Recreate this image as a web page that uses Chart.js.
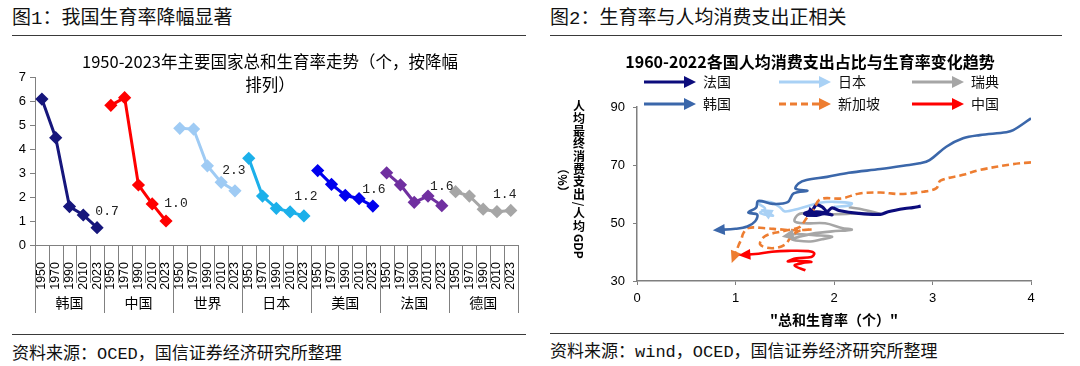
<!DOCTYPE html>
<html lang="zh-CN">
<head>
<meta charset="utf-8">
<script src="https://cdn.jsdelivr.net/npm/chart.js@4.4.1/dist/chart.umd.min.js"></script>
<style>
  html, body { margin: 0; padding: 0; background: #fff; }
  body { width: 1080px; height: 366px; position: relative; overflow: hidden; color: #000;
         font-family: "Noto Sans CJK SC", sans-serif; }
  .head { position: absolute; top: 6px; font-size: 19px; line-height: 26px; color: #111;
          font-family: "Liberation Mono", "Noto Sans CJK SC", monospace; }
  .src { position: absolute; font-size: 17px; line-height: 24px; color: #111;
         font-family: "Liberation Mono", "Noto Sans CJK SC", monospace; }
  .rule { position: absolute; height: 0; border-top: 1.5px solid #3a3a3a; }
  .ctitle { position: absolute; width: 540px; text-align: center; font-size: 16.5px; line-height: 23px; z-index: 2; }
  .box { position: absolute; }
</style>
</head>
<body>

<div class="head" style="left:12px">图1：我国生育率降幅显著</div>
<div class="rule" style="left:12px; top:35px; width:514px"></div>
<div class="ctitle" style="left:0; top:50px">1950-2023年主要国家总和生育率走势（个，按降幅<br>排列）</div>
<div class="box" style="left:0; top:40px; width:535px; height:280px"><canvas id="chartTfr"></canvas></div>
<div class="rule" style="left:12px; top:334px; width:514px"></div>
<div class="src" style="left:12px; top:343px">资料来源：OCED，国信证券经济研究所整理</div>

<div class="head" style="left:550px">图2：生育率与人均消费支出正相关</div>
<div class="rule" style="left:550px; top:35px; width:512px"></div>
<div class="ctitle" style="left:540px; top:50px; font-size:16px; font-weight:bold">1960-2022各国人均消费支出占比与生育率变化趋势</div>
<div class="box" style="left:540px; top:40px; width:540px; height:290px"><canvas id="chartCons"></canvas></div>
<div class="rule" style="left:550px; top:333px; width:514px"></div>
<div class="src" style="left:550px; top:341px">资料来源：wind，OCED，国信证券经济研究所整理</div>

<script>
// ---------- datos figura 1 (总和生育率)
const years = ['1950', '1970', '1990', '2010', '2023'];
const countries = ['韩国', '中国', '世界', '日本', '美国', '法国', '德国'];
const tfrKorea = [6.08, 4.47, 1.60, 1.25, 0.72];
const tfrChina = [5.82, 6.14, 2.50, 1.71, 1.00];
const tfrWorld = [4.86, 4.83, 3.30, 2.61, 2.26];
const tfrJapan = [3.61, 2.04, 1.53, 1.38, 1.21];
const tfrUSA = [3.10, 2.53, 2.07, 1.93, 1.62];
const tfrFrance = [3.01, 2.51, 1.78, 2.04, 1.64];
const tfrGermany = [2.22, 2.04, 1.49, 1.39, 1.44];
const tfrTicks = [0, 1, 2, 3, 4, 5, 6, 7];

// ---------- datos figura 2 (生育率, 人均消费支出/人均GDP %)
const frTfr = [2.88, 2.80, 2.72, 2.55, 2.47, 2.25, 2.05, 1.98, 1.93, 1.88, 1.82, 1.78, 1.70, 1.80, 1.90, 1.98, 1.86, 1.76, 1.80];
const frCons = [55.8, 55.3, 55.0, 53.9, 53.0, 53.3, 54.3, 55.2, 54.0, 55.6, 56.2, 54.4, 53.2, 52.6, 53.2, 52.8, 53.8, 53.5, 53.0];
const jpTfr = [2.00, 2.15, 2.18, 2.00, 1.85, 1.77, 1.65, 1.50, 1.45, 1.35, 1.22, 1.30, 1.25, 1.38, 1.30];
const jpCons = [55.6, 56.0, 56.8, 57.3, 57.0, 56.2, 55.0, 54.0, 55.5, 57.2, 57.0, 55.0, 53.5, 52.5, 54.0];
const seTfr = [2.15, 2.30, 2.47, 2.25, 2.00, 1.75, 1.64, 1.60, 1.70, 1.91, 2.08, 2.18, 1.98, 1.81, 1.67, 1.57, 1.74, 1.88, 1.98, 1.80, 1.62, 1.52];
const seCons = [55.4, 54.6, 53.0, 53.3, 53.0, 53.4, 53.0, 50.6, 49.9, 49.9, 48.3, 47.7, 47.1, 46.5, 45.4, 44.4, 43.6, 44.4, 45.3, 45.8, 46.2, 45.6];
const krTfr = [4.00, 3.82, 3.75, 3.48, 3.31, 3.14, 2.97, 2.87, 2.72, 2.47, 2.15, 1.93, 1.72, 1.64, 1.61, 1.73, 1.59, 1.53, 1.38, 1.23, 1.21, 1.13, 1.22, 1.20, 1.12, 1.00, 0.82];
const krCons = [86.1, 82.0, 81.3, 80.3, 79.2, 76.3, 71.7, 70.6, 69.8, 68.6, 67.3, 65.9, 64.8, 63.6, 61.8, 61.1, 60.2, 57.2, 56.6, 57.6, 55.3, 53.6, 52.9, 50.6, 48.8, 48.0, 47.6];
const sgTfr = [4.00, 3.82, 3.48, 3.31, 3.08, 3.04, 2.91, 2.67, 2.47, 2.26, 2.08, 1.86, 1.79, 1.72, 1.65, 1.50, 1.30, 1.25, 1.37, 1.50, 1.57, 1.65, 1.78, 1.60, 1.45, 1.30, 1.13, 1.08, 1.06, 1.03, 0.98];
const sgCons = [70.9, 70.3, 68.3, 66.6, 64.6, 62.0, 60.8, 60.0, 60.5, 60.2, 58.5, 58.2, 54.5, 51.6, 48.6, 47.3, 45.5, 42.6, 41.3, 42.5, 45.5, 47.3, 47.8, 47.5, 47.8, 48.2, 48.3, 46.5, 44.5, 42.2, 37.8];
const cnTfr = [1.71, 1.60, 1.68, 1.77, 1.62, 1.53, 1.62, 1.77, 1.80, 1.74, 1.53, 1.37, 1.20, 1.08];
const cnCons = [33.7, 35.3, 36.2, 36.6, 37.0, 36.8, 37.8, 38.3, 39.5, 40.3, 40.4, 40.1, 39.3, 39.0];
const tfrAxisTicks = [0, 1, 2, 3, 4];
const consAxisTicks = [30, 50, 70, 90];

// ========================== Figura 1
const leftColors = ['#16167c', '#ff0000', '#9fcbf4', '#1cb0ea', '#0000ee', '#7030a0', '#a6a6a6'];
const tfrSeries = [tfrKorea, tfrChina, tfrWorld, tfrJapan, tfrUSA, tfrFrance, tfrGermany];
const categoryLabels = countries.flatMap(() => years);

const leftDatasets = tfrSeries.map((vals, g) => {
    const data = new Array(categoryLabels.length).fill(null);
    vals.forEach((v, i) => { data[g * years.length + i] = v; });
    return {
        label: countries[g],
        data: data,
        borderColor: leftColors[g],
        backgroundColor: leftColors[g],
        borderWidth: 3,
        pointStyle: 'rectRot',
        pointRadius: 4.5,
        pointHoverRadius: 4.5,
        tension: 0,
        spanGaps: false
    };
});

// desplazamiento de las etiquetas del último valor
const labelShift = [[10, -16], [10, -17], [-1, -20], [2, -19], [1, -17], [0, -19], [-6, -16]];

const groupAxisPlugin = {
    id: 'groupAxis',
    afterDraw(chart) {
        const { ctx, scales: { x } } = chart;
        const n = categoryLabels.length;
        const step = (x.right - x.left) / n;
        ctx.save();
        ctx.strokeStyle = '#808080';
        ctx.lineWidth = 1;
        for (let i = 0; i <= n; i++) {
            const px = Math.round(x.left + i * step) + 0.5;
            const isGroup = i % years.length === 0;
            ctx.beginPath();
            ctx.moveTo(px, x.top);
            ctx.lineTo(px, x.top + (isGroup ? 68 : 38));
            ctx.stroke();
        }
        ctx.fillStyle = '#000';
        ctx.font = '14px "Noto Sans CJK SC"';
        ctx.textAlign = 'center';
        ctx.textBaseline = 'middle';
        countries.forEach((c, g) => {
            ctx.fillText(c, x.left + (g + 0.5) * years.length * step, x.top + 58);
        });
        ctx.restore();
    },
    afterDatasetsDraw(chart) {
        const ctx = chart.ctx;
        ctx.save();
        ctx.fillStyle = '#222';
        ctx.font = '13px "Liberation Mono"';
        ctx.textAlign = 'center';
        ctx.textBaseline = 'middle';
        chart.data.datasets.forEach((ds, i) => {
            const last = (i + 1) * years.length - 1;
            const pt = chart.getDatasetMeta(i).data[last];
            ctx.fillText(ds.data[last].toFixed(1), pt.x + labelShift[i][0], pt.y + labelShift[i][1]);
        });
        ctx.restore();
    }
};

new Chart(document.getElementById('chartTfr'), {
    type: 'line',
    data: { labels: categoryLabels, datasets: leftDatasets },
    plugins: [groupAxisPlugin],
    options: {
        responsive: true,
        maintainAspectRatio: false,
        animation: false,
        layout: { padding: { left: 0, right: 17, top: 37, bottom: 0 } },
        plugins: { legend: { display: false }, tooltip: { enabled: false } },
        scales: {
            x: {
                type: 'category',
                offset: true,
                afterFit: (s) => { s.height = 75; },
                grid: { display: false },
                border: { display: true, color: '#808080', width: 1 },
                ticks: {
                    autoSkip: false, minRotation: 90, maxRotation: 90, padding: 9,
                    color: '#000', font: { family: 'Liberation Sans', size: 12.5 }
                }
            },
            y: {
                min: 0, max: 7,
                afterFit: (s) => { s.width = 35; },
                afterBuildTicks: (s) => { s.ticks = tfrTicks.map(v => ({ value: v })); },
                grid: { drawOnChartArea: false, tickLength: 5, color: '#808080' },
                border: { color: '#808080', width: 1 },
                ticks: { padding: 4, color: '#000', font: { family: 'Liberation Sans', size: 13 } }
            }
        }
    }
});

// ========================== Figura 2
const rightSeries = [
    { label: '法国', tfr: frTfr, cons: frCons, color: '#0c0c7c', dash: [] },
    { label: '日本', tfr: jpTfr, cons: jpCons, color: '#a9d1f5', dash: [] },
    { label: '瑞典', tfr: seTfr, cons: seCons, color: '#a6a6a6', dash: [] },
    { label: '韩国', tfr: krTfr, cons: krCons, color: '#3b67aa', dash: [] },
    { label: '新加坡', tfr: sgTfr, cons: sgCons, color: '#ed7d31', dash: [7, 4] },
    { label: '中国', tfr: cnTfr, cons: cnCons, color: '#ff0000', dash: [] }
];
const drawOrder = [2, 3, 4, 0, 1, 5];

const rightDatasets = rightSeries.map((s, i) => ({
    label: s.label,
    data: s.tfr.map((t, k) => ({ x: t, y: s.cons[k] })),
    showLine: true,
    borderColor: s.color,
    backgroundColor: s.color,
    borderDash: s.dash,
    borderWidth: i === 0 ? 3.2 : 2.6,
    pointRadius: 0,
    pointHoverRadius: 0,
    tension: 0.35,
    order: drawOrder[i]
}));

function drawArrowHead(ctx, x, y, ang, len, half, color) {
    ctx.save();
    ctx.translate(x, y);
    ctx.rotate(ang);
    ctx.fillStyle = color;
    ctx.beginPath();
    ctx.moveTo(0, 0);
    ctx.lineTo(-len, -half);
    ctx.lineTo(-len, half);
    ctx.closePath();
    ctx.fill();
    ctx.restore();
}

const arrowPlugin = {
    id: 'arrowsLegend',
    afterDatasetsDraw(chart) {
        const ctx = chart.ctx;
        chart.data.datasets.forEach((ds, i) => {
            const pts = chart.getDatasetMeta(i).data;
            const p = pts[pts.length - 1];
            const q = pts[pts.length - 2];
            const ang = Math.atan2(p.y - q.y, p.x - q.x);
            drawArrowHead(ctx, p.x + Math.cos(ang) * 5, p.y + Math.sin(ang) * 5, ang, 12, 5.5, ds.borderColor);
        });
    },
    afterDraw(chart) {
        const ctx = chart.ctx;
        const colX = [104, 239, 372];
        const rowY = [42, 64];
        ctx.save();
        chart.data.datasets.forEach((ds, i) => {
            const x0 = colX[i % 3], y0 = rowY[Math.floor(i / 3)];
            ctx.strokeStyle = ds.borderColor;
            ctx.lineWidth = 3;
            ctx.setLineDash(ds.borderDash || []);
            ctx.beginPath();
            ctx.moveTo(x0, y0);
            ctx.lineTo(x0 + 42, y0);
            ctx.stroke();
            ctx.setLineDash([]);
            drawArrowHead(ctx, x0 + 52, y0, 0, 12, 6, ds.borderColor);
            ctx.fillStyle = '#111';
            ctx.font = '14px "Noto Sans CJK SC"';
            ctx.textAlign = 'left';
            ctx.textBaseline = 'middle';
            ctx.fillText(ds.label, x0 + 59, y0);
        });

        // título vertical del eje Y
        ctx.fillStyle = '#000';
        ctx.font = 'bold 12px "Noto Sans CJK SC"';
        ctx.textAlign = 'center';
        ctx.textBaseline = 'middle';
        const parts = [['人均最终消费支出', true], ['/', false], ['人均', true], ['GDP', false]];
        let y = 60;
        const cx = 39;
        parts.forEach(([txt, upright]) => {
            if (upright) {
                for (const ch of txt) { ctx.fillText(ch, cx, y + 6); y += 12.6; }
            } else {
                const w = ctx.measureText(txt).width;
                ctx.save();
                ctx.translate(cx, y + w / 2 + 1);
                ctx.rotate(Math.PI / 2);
                ctx.fillText(txt, 0, 0);
                ctx.restore();
                y += w + 2;
            }
        });
        ctx.save();
        ctx.translate(23, 140);
        ctx.rotate(Math.PI / 2);
        ctx.fillText('（%）', 0, 0);
        ctx.restore();
        ctx.restore();
    }
};

new Chart(document.getElementById('chartCons'), {
    type: 'scatter',
    data: { datasets: rightDatasets },
    plugins: [arrowPlugin],
    options: {
        responsive: true,
        maintainAspectRatio: false,
        animation: false,
        layout: { padding: { left: 0, right: 49, top: 67, bottom: 0 } },
        plugins: { legend: { display: false }, tooltip: { enabled: false } },
        scales: {
            x: {
                type: 'linear', min: 0, max: 4,
                afterFit: (s) => { s.height = 49; },
                afterBuildTicks: (s) => { s.ticks = tfrAxisTicks.map(v => ({ value: v })); },
                grid: { drawOnChartArea: false, tickLength: 4, color: '#7f7f7f' },
                border: { color: '#7f7f7f', width: 1.5 },
                ticks: { padding: 6, color: '#000', font: { family: 'Liberation Sans', size: 13 } },
                title: {
                    display: true, text: '"总和生育率（个）"', color: '#000',
                    font: { family: 'Noto Sans CJK SC', size: 14, weight: 'bold' },
                    padding: { top: 0, bottom: 2 }
                }
            },
            y: {
                type: 'linear', min: 30, max: 90,
                afterFit: (s) => { s.width = 97; },
                afterBuildTicks: (s) => { s.ticks = consAxisTicks.map(v => ({ value: v })); },
                grid: { drawOnChartArea: false, tickLength: 4, color: '#7f7f7f' },
                border: { color: '#7f7f7f', width: 1.5 },
                ticks: { padding: 8, color: '#000', font: { family: 'Liberation Sans', size: 13 } }
            }
        }
    }
});
</script>
</body>
</html>
